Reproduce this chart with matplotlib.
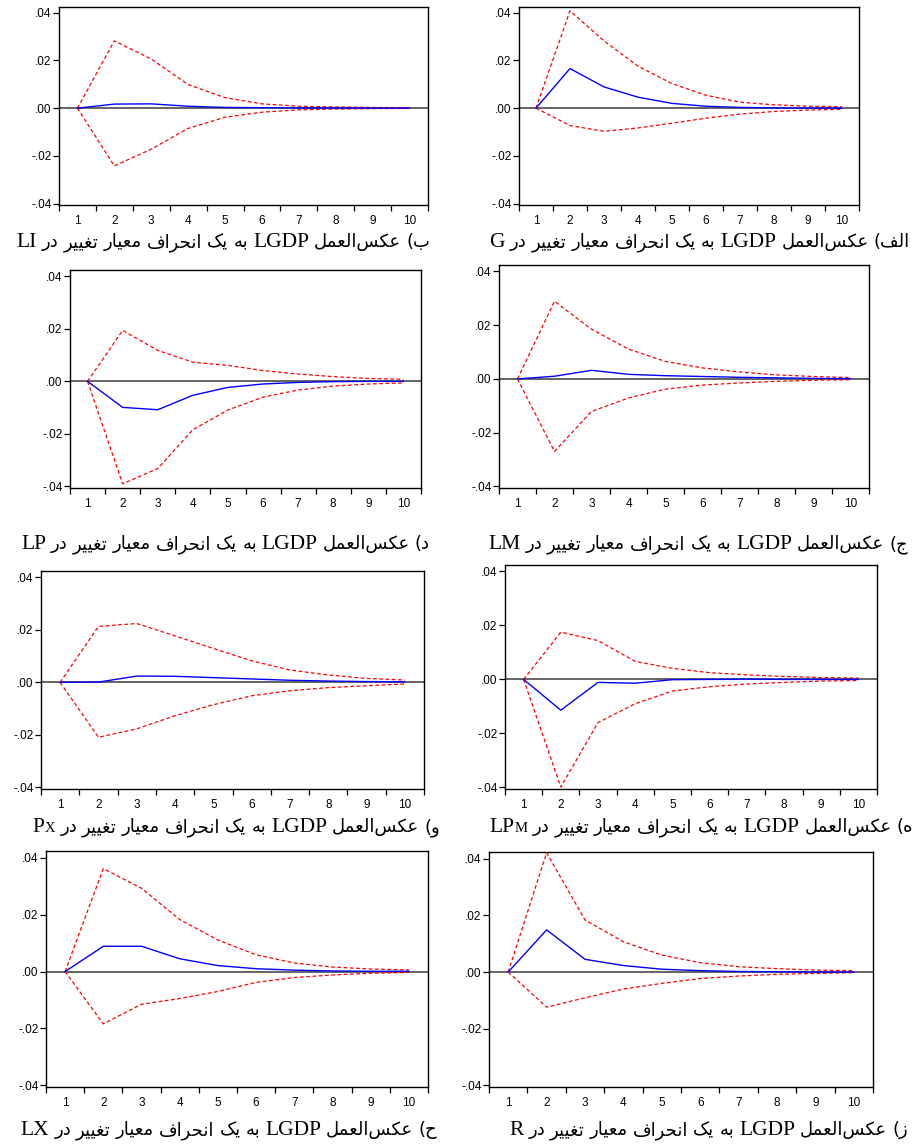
import numpy as np
import matplotlib
matplotlib.use('Agg')
import matplotlib.pyplot as plt
from matplotlib.ticker import FixedLocator

# ---- data ----
periods = list(range(1, 11))

resp_G = [0, 0.0166, 0.0089, 0.0046, 0.0020, 0.0008, 0.0003, 0.0001, 0.0000, 0.0000]
up_G = [0, 0.0408, 0.0282, 0.0176, 0.0103, 0.0054, 0.0025, 0.0014, 0.0008, 0.0006]
lo_G = [0, -0.0073, -0.0097, -0.0083, -0.0063, -0.0042, -0.0025, -0.0014, -0.0008, -0.0005]

resp_LI = [0, 0.0017, 0.0018, 0.0008, 0.0003, 0.0002, 0.0001, 0.0001, 0.0000, 0.0000]
up_LI = [0, 0.0282, 0.0206, 0.0099, 0.0044, 0.0018, 0.0008, 0.0005, 0.0003, 0.0002]
lo_LI = [0, -0.0242, -0.0172, -0.0085, -0.0038, -0.0017, -0.0007, -0.0004, -0.0002, -0.0001]

resp_LM = [0, 0.0010, 0.0032, 0.0017, 0.0012, 0.0009, 0.0006, 0.0004, 0.0002, 0.0001]
up_LM = [0, 0.0289, 0.0185, 0.0111, 0.0065, 0.0041, 0.0026, 0.0015, 0.0009, 0.0005]
lo_LM = [0, -0.0270, -0.0121, -0.0071, -0.0038, -0.0023, -0.0015, -0.0009, -0.0005, -0.0003]

resp_LP = [0, -0.0099, -0.0108, -0.0053, -0.0023, -0.0010, -0.0004, -0.0001, 0.0000, 0.0000]
up_LP = [0, 0.0194, 0.0118, 0.0073, 0.0061, 0.0041, 0.0028, 0.0018, 0.0011, 0.0008]
lo_LP = [0, -0.0390, -0.0332, -0.0184, -0.0109, -0.0060, -0.0033, -0.0018, -0.0010, -0.0006]

resp_LPM = [0, -0.0114, -0.0011, -0.0014, -0.0001, 0.0000, 0.0001, 0.0000, 0.0000, 0.0000]
up_LPM = [0, 0.0175, 0.0144, 0.0067, 0.0041, 0.0025, 0.0017, 0.0011, 0.0007, 0.0005]
lo_LPM = [0, -0.0399, -0.0160, -0.0090, -0.0043, -0.0027, -0.0017, -0.0011, -0.0006, -0.0004]

resp_PX = [0, 0.0001, 0.0024, 0.0023, 0.0018, 0.0013, 0.0008, 0.0005, 0.0003, 0.0002]
up_PX = [0, 0.0213, 0.0224, 0.0177, 0.0129, 0.0082, 0.0047, 0.0028, 0.0015, 0.0009]
lo_PX = [0, -0.0209, -0.0177, -0.0127, -0.0085, -0.0051, -0.0032, -0.0020, -0.0013, -0.0006]

resp_R = [0, 0.0149, 0.0045, 0.0023, 0.0010, 0.0005, 0.0002, 0.0001, 0.0000, 0.0000]
up_R = [0, 0.0421, 0.0184, 0.0107, 0.0060, 0.0033, 0.0019, 0.0012, 0.0007, 0.0005]
lo_R = [0, -0.0124, -0.0091, -0.0060, -0.0040, -0.0023, -0.0014, -0.0008, -0.0005, -0.0002]

resp_LX = [0, 0.0089, 0.0089, 0.0045, 0.0021, 0.0010, 0.0005, 0.0002, 0.0001, 0.0001]
up_LX = [0, 0.0362, 0.0293, 0.0183, 0.0111, 0.0059, 0.0030, 0.0016, 0.0009, 0.0006]
lo_LX = [0, -0.0184, -0.0115, -0.0095, -0.0070, -0.0038, -0.0021, -0.0012, -0.0006, -0.0003]

y_ticks = [-0.04, -0.02, 0.0, 0.02, 0.04]
y_tick_labels = ['-.04', '-.02', '.00', '.02', '.04']

caption_words = ['عکس‌العمل', 'LGDP', 'به', 'یک', 'انحراف', 'معیار', 'تغییر', 'در']

# ---- simple Persian shaping (matplotlib has no complex text layout) ----
# letter: (isolated, final, initial, medial); right-joining letters have only two forms
FORMS = {
    'ا': ('\uFE8D', '\uFE8E'), 'د': ('\uFEA9', '\uFEAA'), 'ر': ('\uFEAD', '\uFEAE'),
    'ز': ('\uFEAF', '\uFEB0'), 'و': ('\uFEED', '\uFEEE'),
    'ب': ('\uFE8F', '\uFE90', '\uFE91', '\uFE92'), 'ت': ('\uFE95', '\uFE96', '\uFE97', '\uFE98'),
    'ج': ('\uFE9D', '\uFE9E', '\uFE9F', '\uFEA0'), 'ح': ('\uFEA1', '\uFEA2', '\uFEA3', '\uFEA4'),
    'س': ('\uFEB1', '\uFEB2', '\uFEB3', '\uFEB4'), 'ع': ('\uFEC9', '\uFECA', '\uFECB', '\uFECC'),
    'غ': ('\uFECD', '\uFECE', '\uFECF', '\uFED0'), 'ف': ('\uFED1', '\uFED2', '\uFED3', '\uFED4'),
    'ل': ('\uFEDD', '\uFEDE', '\uFEDF', '\uFEE0'), 'م': ('\uFEE1', '\uFEE2', '\uFEE3', '\uFEE4'),
    'ن': ('\uFEE5', '\uFEE6', '\uFEE7', '\uFEE8'), 'ه': ('\uFEE9', '\uFEEA', '\uFEEB', '\uFEEC'),
    'ک': ('\uFB8E', '\uFB8F', '\uFB90', '\uFB91'), 'ی': ('\uFBFC', '\uFBFD', '\uFBFE', '\uFBFF'),
}
MIRROR = {'(': ')', ')': '('}


def shape(word):
    out = []
    n = len(word)
    for i, ch in enumerate(word):
        if ch not in FORMS:
            if ch != '\u200c':
                out.append(MIRROR.get(ch, ch))
            continue
        f = FORMS[ch]
        prev_j = i > 0 and word[i - 1] in FORMS and len(FORMS[word[i - 1]]) == 4
        next_j = len(f) == 4 and i + 1 < n and word[i + 1] in FORMS
        if prev_j and next_j:
            out.append(f[3])
        elif prev_j:
            out.append(f[1])
        elif next_j:
            out.append(f[2])
        else:
            out.append(f[0])
    return ''.join(reversed(out))


def is_latin(word):
    return all(ord(c) < 128 for c in word)


W, H = 915, 1146
fig = plt.figure(figsize=(W / 100, H / 100), dpi=100)

# resp, upper, lower, caption letter, variable (main, small suffix), box px, caption anchor px
panels = [
    (resp_LI, up_LI, lo_LI, 'ب', 'LI', '', (59, 428, 7, 205), (430, 247)),
    (resp_G, up_G, lo_G, 'الف', 'G', '', (519, 859, 7, 205), (910, 247)),
    (resp_LP, up_LP, lo_LP, 'د', 'LP', '', (70, 421, 270, 488), (430, 549)),
    (resp_LM, up_LM, lo_LM, 'ج', 'LM', '', (499, 869, 265, 488), (908, 549)),
    (resp_PX, up_PX, lo_PX, 'و', 'P', 'X', (41, 424, 571, 789), (440, 832)),
    (resp_LPM, up_LPM, lo_LPM, 'ه', 'LP', 'M', (505, 877, 565, 789), (913, 832)),
    (resp_LX, up_LX, lo_LX, 'ح', 'LX', '', (46, 428, 851, 1087), (437, 1135)),
    (resp_R, up_R, lo_R, 'ز', 'R', '', (489, 873, 852, 1087), (908, 1135)),
]

tick_font = {'family': 'Liberation Sans', 'size': 8.5}

for resp, up, lo, lab, vmain, vsub, (l, r, t, b), cap in panels:
    ax = fig.add_axes([l / W, 1 - b / H, (r - l) / W, (b - t) / H])
    ax.axhline(0, color='#3a3a3a', lw=1.1, zorder=1)
    ax.plot(periods, up, color='red', lw=0.9, ls=(0, (3, 2)), zorder=3)
    ax.plot(periods, lo, color='red', lw=0.9, ls=(0, (3, 2)), zorder=3)
    ax.plot(periods, resp, color='blue', lw=1.0, zorder=4)
    ax.set_xlim(0.5, 10.5)
    ax.set_ylim(-0.0406, 0.0424)
    ax.set_xticks(periods)
    ax.set_xticklabels([str(p) for p in periods], fontdict=tick_font)
    ax.xaxis.set_minor_locator(FixedLocator(np.arange(0.5, 11, 1.0)))
    ax.tick_params(axis='x', which='major', length=0, pad=7)
    ax.tick_params(axis='x', which='minor', length=4.3, width=0.9, direction='out')
    ax.set_yticks(y_ticks)
    ax.set_yticklabels(y_tick_labels, fontdict=tick_font)
    ax.tick_params(axis='y', length=4.3, width=0.9, pad=1, direction='out')
    for sp in ax.spines.values():
        sp.set_linewidth(1.0)
        sp.set_color('black')

    # caption, laid out right to left word by word
    renderer = fig.canvas.get_renderer()
    x = cap[0]
    y = 1 - cap[1] / H
    words = [lab + ')'] + caption_words + ['VAR']
    for w in words:
        if w == 'VAR':
            if vsub:
                ts = fig.text(x / W, y, vsub, ha='right', va='baseline',
                              family='Liberation Serif', size=10.5)
                x = ts.get_window_extent(renderer).x0
            fig.text(x / W, y, vmain, ha='right', va='baseline',
                     family='Liberation Serif', size=15.5)
            continue
        if is_latin(w):
            tt = fig.text(x / W, y, w, ha='right', va='baseline',
                          family='Liberation Serif', size=15.5)
        else:
            tt = fig.text(x / W, y, shape(w), ha='right', va='baseline',
                          family='DejaVu Sans', size=13)
        x = tt.get_window_extent(renderer).x0 - 5

fig.savefig('out.png', dpi=100)
